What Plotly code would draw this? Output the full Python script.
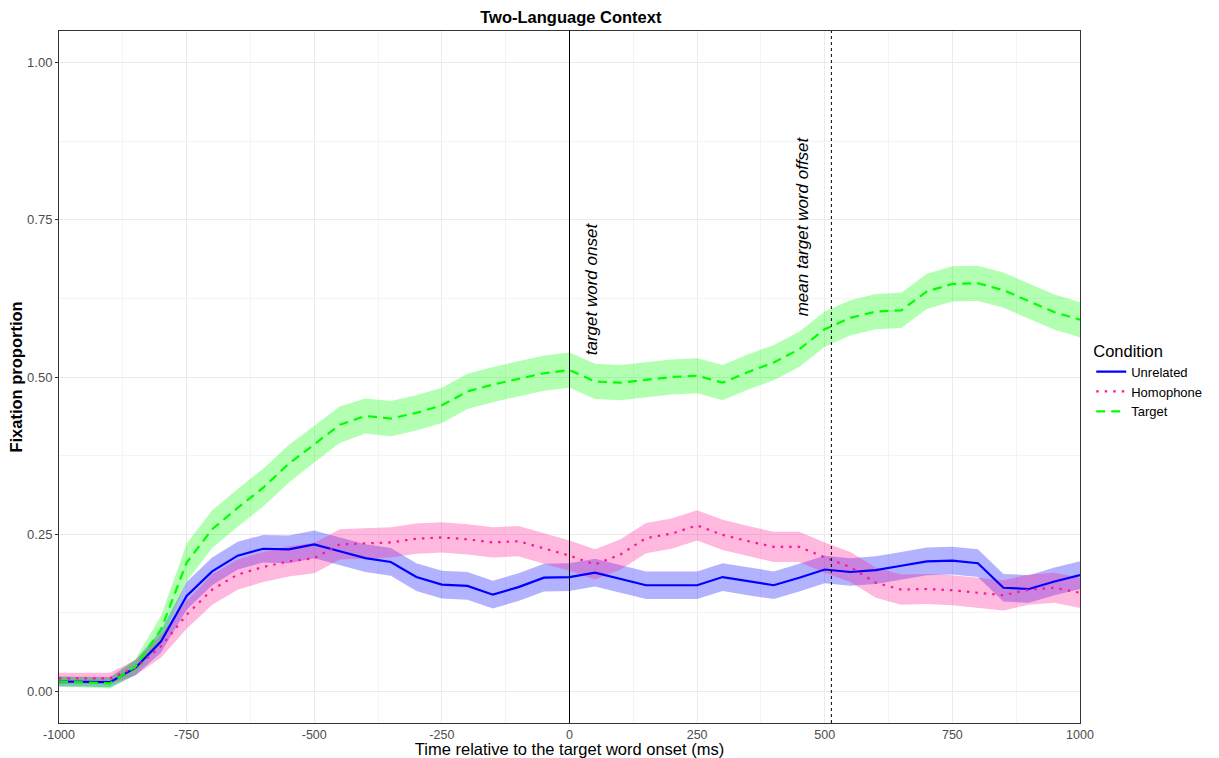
import plotly.graph_objects as go

# Time bins (ms relative to target word onset)
time_ms = list(range(-1000, 1001, 50))

# Axis ticks
x_ticks = [-1000, -750, -500, -250, 0, 250, 500, 750, 1000]
x_tick_labels = ["-1000", "-750", "-500", "-250", "0", "250", "500", "750", "1000"]
y_ticks = [0, 0.25, 0.5, 0.75, 1.0]
y_tick_labels = ["0.00", "0.25", "0.50", "0.75", "1.00"]

# Mean fixation proportions per condition
unrelated = [0.016, 0.016, 0.015, 0.038, 0.080, 0.152, 0.191, 0.216, 0.227, 0.226,
             0.234, 0.223, 0.212, 0.206, 0.182, 0.170, 0.168, 0.154, 0.166, 0.181,
             0.182, 0.189, 0.179, 0.169, 0.169, 0.169, 0.182, 0.175, 0.169, 0.181,
             0.194, 0.190, 0.193, 0.200, 0.207, 0.208, 0.204, 0.165, 0.163, 0.175,
             0.185]
homophone = [0.021, 0.021, 0.021, 0.038, 0.072, 0.122, 0.162, 0.186, 0.198, 0.207,
             0.212, 0.234, 0.236, 0.237, 0.243, 0.245, 0.242, 0.237, 0.239, 0.227,
             0.216, 0.202, 0.218, 0.244, 0.251, 0.264, 0.249, 0.239, 0.230, 0.230,
             0.213, 0.198, 0.173, 0.162, 0.163, 0.161, 0.157, 0.153, 0.162, 0.165,
             0.157]
target = [0.016, 0.014, 0.013, 0.040, 0.099, 0.205, 0.258, 0.292, 0.324, 0.362,
          0.393, 0.424, 0.438, 0.434, 0.443, 0.455, 0.477, 0.488, 0.497, 0.506,
          0.511, 0.493, 0.491, 0.495, 0.500, 0.502, 0.491, 0.508, 0.523, 0.544,
          0.576, 0.594, 0.604, 0.606, 0.636, 0.648, 0.649, 0.638, 0.621, 0.603,
          0.591]

# Half-widths of the confidence ribbons
unrelated_ci = [0.008, 0.008, 0.008, 0.012, 0.018, 0.022, 0.022, 0.022, 0.022, 0.022,
                0.022, 0.022, 0.022, 0.022, 0.022, 0.022, 0.022, 0.022, 0.022, 0.022,
                0.022, 0.022, 0.022, 0.022, 0.022, 0.022, 0.022, 0.022, 0.022, 0.022,
                0.022, 0.022, 0.022, 0.022, 0.022, 0.022, 0.022, 0.022, 0.022, 0.022,
                0.022]
homophone_ci = [0.009, 0.009, 0.009, 0.012, 0.018, 0.022, 0.024, 0.024, 0.024, 0.024,
                0.024, 0.024, 0.024, 0.024, 0.024, 0.024, 0.024, 0.024, 0.024, 0.024,
                0.024, 0.024, 0.024, 0.024, 0.024, 0.024, 0.024, 0.024, 0.024, 0.024,
                0.024, 0.024, 0.024, 0.024, 0.024, 0.024, 0.024, 0.024, 0.024, 0.024,
                0.024]
target_ci = [0.008, 0.008, 0.008, 0.012, 0.022, 0.030, 0.030, 0.030, 0.030, 0.030,
             0.029, 0.029, 0.028, 0.028, 0.028, 0.028, 0.028, 0.028, 0.028, 0.028,
             0.028, 0.028, 0.028, 0.028, 0.028, 0.028, 0.028, 0.028, 0.028, 0.028,
             0.028, 0.028, 0.028, 0.028, 0.028, 0.028, 0.028, 0.028, 0.028, 0.028,
             0.028]

conditions = ["Unrelated", "Homophone", "Target"]
series = [unrelated, homophone, target]
ribbons = [unrelated_ci, homophone_ci, target_ci]
line_colors = ["#0000FF", "#FF1493", "#00FF00"]
fill_colors = ["rgba(0,0,255,0.3)", "rgba(255,20,147,0.3)", "rgba(0,255,0,0.3)"]
dashes = ["solid", "2.5px,6px", "9px,6px"]

onset_ms = 0
mean_offset_ms = 513

FONT = "Liberation Sans, Arial, sans-serif"

fig = go.Figure()

# Confidence ribbons
for name, ys, ci, fc in zip(conditions, series, ribbons, fill_colors):
    lower = [y - c for y, c in zip(ys, ci)]
    upper = [y + c for y, c in zip(ys, ci)]
    fig.add_trace(go.Scatter(
        x=time_ms + time_ms[::-1],
        y=upper + lower[::-1],
        fill="toself", fillcolor=fc,
        line=dict(width=0), mode="lines",
        hoverinfo="skip", showlegend=False,
    ))

# Mean lines
for name, ys, lc, dash in zip(conditions, series, line_colors, dashes):
    fig.add_trace(go.Scatter(
        x=time_ms, y=ys, name=name, mode="lines",
        line=dict(color=lc, width=2.2, dash=dash),
    ))

# Reference lines for word onset and mean offset
fig.add_shape(type="line", xref="x", yref="paper", x0=onset_ms, x1=onset_ms,
              y0=0, y1=1, line=dict(color="black", width=1))
fig.add_shape(type="line", xref="x", yref="paper", x0=mean_offset_ms, x1=mean_offset_ms,
              y0=0, y1=1, line=dict(color="black", width=1, dash="3px,3px"))

fig.add_annotation(x=onset_ms + 42, y=0.641, text="<i>target word onset</i>",
                   textangle=-90, showarrow=False,
                   font=dict(family=FONT, size=17, color="black"))
fig.add_annotation(x=mean_offset_ms - 57, y=0.740, text="<i>mean target word offset</i>",
                   textangle=-90, showarrow=False,
                   font=dict(family=FONT, size=17, color="black"))

fig.update_layout(
    width=1219, height=758,
    margin=dict(l=59, r=137, t=31, b=35),
    paper_bgcolor="white", plot_bgcolor="white",
    font=dict(family=FONT, color="black"),
    title=dict(text="<b>Two-Language Context</b>", x=0.4683, xanchor="center",
               y=1 - 17 / 758, yanchor="middle",
               font=dict(family=FONT, size=16.5, color="black")),
    legend=dict(
        title=dict(text="Condition", font=dict(family=FONT, size=16.5, color="black")),
        font=dict(family=FONT, size=13, color="black"),
        x=1.011, xanchor="left", y=0.494, yanchor="middle",
        itemwidth=30, bgcolor="rgba(0,0,0,0)",
    ),
    xaxis=dict(
        range=[-1000, 1000], tickmode="array", tickvals=x_ticks, ticktext=x_tick_labels,
        showgrid=True, gridcolor="#ebebeb", gridwidth=1,
        minor=dict(tick0=-1000, dtick=125, showgrid=True, gridcolor="#f4f4f4", gridwidth=1),
        zeroline=False, showline=True, linecolor="#333333", linewidth=1, mirror=True,
        ticks="", ticklen=0, tickfont=dict(family=FONT, size=12.5, color="#4d4d4d"),
        automargin=False,
        title=dict(text="Time relative to the target word onset (ms)",
                   font=dict(family=FONT, size=16.5, color="black"), standoff=4),
    ),
    yaxis=dict(
        range=[-0.05, 1.05], tickmode="array", tickvals=y_ticks, ticktext=y_tick_labels,
        showgrid=True, gridcolor="#ebebeb", gridwidth=1,
        minor=dict(tickvals=[0.125, 0.375, 0.625, 0.875], showgrid=True,
                   gridcolor="#f4f4f4", gridwidth=1),
        zeroline=False, showline=True, linecolor="#333333", linewidth=1, mirror=True,
        ticks="outside", ticklen=3, tickcolor="#333333",
        tickfont=dict(family=FONT, size=13, color="#4d4d4d"),
        automargin=False,
        title=dict(text="<b>Fixation proportion</b>",
                   font=dict(family=FONT, size=16.5, color="black"), standoff=0),
    ),
)

fig.write_html("out.html")
